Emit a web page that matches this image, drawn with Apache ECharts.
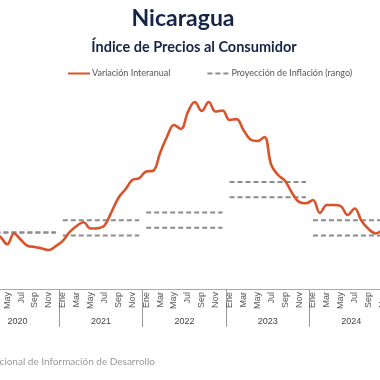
<!DOCTYPE html>
<html>
<head>
<meta charset="utf-8">
<script src="https://cdn.jsdelivr.net/npm/echarts@6/dist/echarts.min.js"></script>
<style>html,body{margin:0;padding:0;background:#fff;}#c{width:380px;height:380px;}</style>
</head>
<body>
<div id="c"></div>
<script>
const months = ['Ene','Feb','Mar','Abr','May','Jun','Jul','Ago','Sep','Oct','Nov','Dic'];
const years = ['2020','2021','2022','2023','2024'];
const infl2020 = [3.5, 3.7, 3.6, 3.42, 2.92, 3.63, 3.2, 2.81, 2.75, 2.65, 2.55, 2.81];
const infl2021 = [3.14, 3.73, 4.12, 4.36, 3.95, 3.97, 4.15, 5.03, 5.95, 6.50, 7.12, 7.24];
const infl2022 = [7.68, 7.73, 8.89, 9.95, 10.72, 10.46, 11.57, 12.22, 11.63, 12.22, 11.60, 11.67];
const infl2023 = [11.05, 11.10, 10.39, 9.77, 9.67, 9.93, 8.10, 7.45, 7.06, 6.27, 5.69, 5.60];
const infl2024 = [5.82, 4.97, 5.49, 5.49, 5.42, 4.84, 5.26, 4.44, 3.92, 3.63, 3.86, null];
const projLow = [3.7, 3.5, 4.0, 6.0, 3.5];
const projHigh = [3.7, 4.5, 5.0, 7.0, 4.5];

const cats = [];
years.forEach(y => months.forEach(m => cats.push(m + ' ' + y)));
const inflation = [].concat(infl2020, infl2021, infl2022, infl2023, infl2024);
const projName = 'Proyección de Inflación (rango)';
const lineName = 'Variación Interanual';

const series = [{
  name: lineName, type: 'line', data: inflation, smooth: 0.4, symbol: 'none',
  lineStyle: {color: '#D9532B', width: 2.6}, itemStyle: {color: '#D9532B'}, z: 5
}];
years.forEach((y, i) => {
  [projLow[i], projHigh[i]].forEach(v => {
    const d = cats.map((c, j) => (Math.floor(j / 12) === i ? v : null));
    series.push({
      name: projName, type: 'line', data: d, symbol: 'none', z: 3,
      lineStyle: {color: '#8C8C8C', width: 2, type: [5, 3]}, itemStyle: {color: '#8C8C8C'}
    });
  });
});

const chart = echarts.init(document.getElementById('c'), null, {renderer: 'canvas'});
chart.setOption({
  animation: false,
  backgroundColor: '#fff',
  title: [
    {text: 'Nicaragua', left: 178, top: 2, textAlign: 'center',
     textStyle: {fontFamily: 'Lato', fontWeight: 'bold', fontSize: 23, color: '#162447'}},
    {text: 'Índice de Precios al Consumidor', left: 189, top: 35, textAlign: 'center',
     textStyle: {fontFamily: 'Lato', fontWeight: 'bold', fontSize: 14.5, color: '#162447'}}
  ],
  legend: {
    data: [lineName, projName], left: 62, top: 64, itemWidth: 22, itemHeight: 10, itemGap: 36,
    itemStyle: {opacity: 0},
    textStyle: {fontFamily: 'Lato', fontSize: 9, color: '#555', padding: [0, 0, 0, -3]}
  },
  grid: {left: -24.1, width: 417, top: 74.8, bottom: 91, containLabel: false, outerBoundsMode: 'none'},
  xAxis: [
    {type: 'category', data: cats, boundaryGap: true, position: 'bottom',
     axisLine: {show: true, lineStyle: {color: '#AAAAAA', width: 1}},
     axisTick: {show: false},
     axisLabel: {interval: 1, rotate: 90, margin: 3, fontFamily: 'Liberation Sans', fontSize: 9, color: '#555',
       formatter: v => v.split(' ')[0]}},
    {type: 'category', data: years, boundaryGap: true, position: 'bottom',
     axisLine: {show: false},
     axisTick: {show: true, length: 38, inside: false, lineStyle: {color: '#9A9A9A', width: 1}},
     axisLabel: {margin: 28, fontFamily: 'Liberation Sans', fontSize: 9, color: '#444'}}
  ],
  yAxis: {type: 'value', min: 0, max: 14, show: false, splitLine: {show: false}},
  graphic: [{
    type: 'text', right: 225, top: 357,
    style: {text: 'Fuente: Instituto Nacional de Información de Desarrollo', fontFamily: 'Lato', fontSize: 10, fill: '#999'}
  }],
  series: series
});
</script>
</body>
</html>
